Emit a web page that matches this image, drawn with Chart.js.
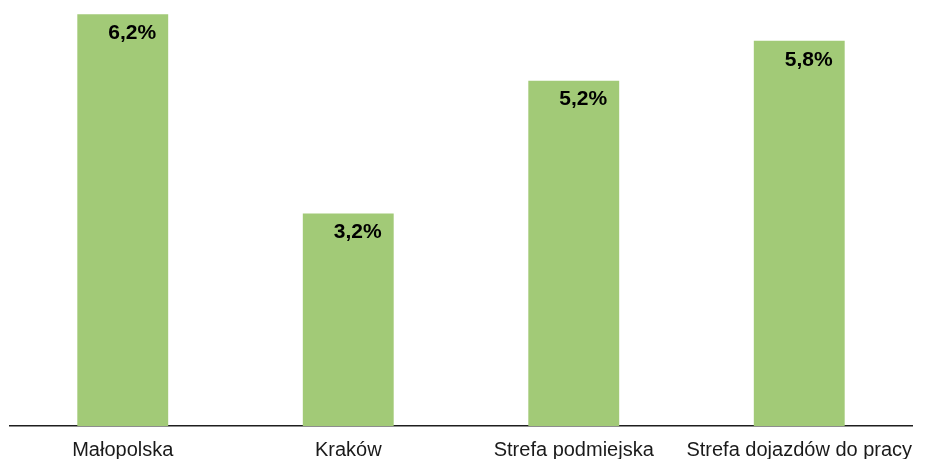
<!DOCTYPE html>
<html>
<head>
<meta charset="utf-8">
<script src="https://cdn.jsdelivr.net/npm/chart.js@4"></script>
<style>
    html, body { margin: 0; padding: 0; background: #ffffff; overflow: hidden; }
    #wrap { width: 933px; height: 474px; }
</style>
</head>
<body>
<div id="wrap"><canvas id="chart" width="933" height="474"></canvas></div>
<script>
// Chart data
const categories = ['Małopolska', 'Kraków', 'Strefa podmiejska', 'Strefa dojazdów do pracy'];
const shares = [6.2, 3.2, 5.2, 5.8];
const valueLabels = ['6,2%', '3,2%', '5,2%', '5,8%'];

const barColor = '#A2CA77';

// Value labels drawn inside the top-right of each bar
const barLabels = {
    id: 'barLabels',
    afterDatasetsDraw(chart) {
        const ctx = chart.ctx;
        const meta = chart.getDatasetMeta(0);
        ctx.save();
        ctx.font = 'bold 21px "Liberation Sans", Arial, sans-serif';
        ctx.fillStyle = '#000000';
        ctx.textAlign = 'right';
        ctx.textBaseline = 'middle';
        meta.data.forEach((bar, i) => {
            ctx.fillText(valueLabels[i], bar.x + bar.width / 2 - 12, bar.y + 19);
        });
        ctx.restore();
    }
};

new Chart(document.getElementById('chart').getContext('2d'), {
    type: 'bar',
    data: {
        labels: categories,
        datasets: [{
            data: shares,
            backgroundColor: barColor,
            borderWidth: 0,
            categoryPercentage: 1,
            barPercentage: 0.403
        }]
    },
    options: {
        responsive: false,
        animation: false,
        layout: {
            padding: { top: 1, left: 10, right: 21, bottom: 0 }
        },
        plugins: {
            legend: { display: false },
            tooltip: { enabled: false }
        },
        scales: {
            y: {
                display: false,
                min: 0,
                max: 6.4
            },
            x: {
                grid: { display: false, drawTicks: false },
                border: { display: true, color: '#1e1e1e', width: 1.5 },
                ticks: {
                    color: '#1a1a1a',
                    padding: 12,
                    maxRotation: 0,
                    autoSkip: false,
                    font: { family: '"Liberation Sans", Arial, sans-serif', size: 20 }
                }
            }
        }
    },
    plugins: [barLabels]
});
</script>
</body>
</html>
